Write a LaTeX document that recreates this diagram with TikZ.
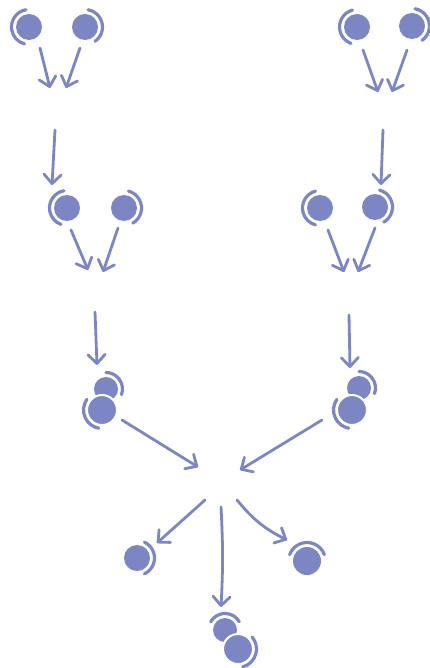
\documentclass[tikz,border=0pt]{standalone}
\usetikzlibrary{arrows.meta}
\definecolor{blu}{RGB}{124,134,194}
\tikzset{
  blob/.style={circle, fill=blu, inner sep=0pt},
  fblob/.style={circle, fill=blu, draw=white, line width=2pt, inner sep=0pt},
  cres/.style={draw=blu, line width=3.2pt, line cap=round},
  arr/.style={draw=blu, line width=2.8pt, line cap=round,
    -{Straight Barb[length=9pt,width=17pt,line width=2.8pt,round]}}
}
\newcommand{\myblob}[6]{% name, x, y, r, start, end
  \node[blob, minimum size=#4*2pt] (#1) at (#2,-#3) {};
  \draw[cres] (#1.center) ++(#5:#4+4.5) arc[start angle=#5, end angle=#6, radius=#4+4.5];
}
\newcommand{\myfblob}[6]{%
  \node[fblob, minimum size=#4*2pt+2pt] (#1) at (#2,-#3) {};
  \draw[cres] (#1.center) ++(#5:#4+4.5) arc[start angle=#5, end angle=#6, radius=#4+4.5];
}
\begin{document}
\begin{tikzpicture}[x=1pt,y=1pt]
\useasboundingbox (0,0) rectangle (430,-668);
% top left
\myblob{tl1}{29}{27}{13}{100}{255}
\myblob{tl2}{85}{27}{13}{-55}{80}
% top right
\myblob{tr1}{357}{27}{13}{105}{250}
\myblob{tr2}{412}{26}{13}{-55}{80}
% middle
\myblob{ml1}{67}{208}{13}{100}{250}
\myblob{ml2}{124}{208}{13}{-60}{75}
\myblob{mr1}{320}{208}{13}{105}{255}
\myblob{mr2}{375}{207}{13}{-60}{75}
% stacks
\myblob{sl1}{106}{389}{12}{-20}{90}
\myfblob{sl2}{102}{410}{14}{145}{260}
\myblob{sr1}{359}{388}{12}{-20}{90}
\myfblob{sr2}{352}{410}{14}{145}{260}
% bottom
\myblob{bl}{137}{558}{13}{-65}{65}
\myblob{br}{307}{561}{14}{20}{160}
\myblob{bs1}{225}{630}{12}{30}{150}
\myfblob{bs2}{238}{649}{14}{-75}{40}
% coordinates
\foreach \n/\x/\y in {
 a1s/40/48, a1e/50/88, a2s/80/48, a2e/66/88, a3s/55/130, a3e/52/185,
 a4s/363/50, a4e/378/92, a5s/407/50, a5e/392/92, a6s/383/130, a6e/381/185,
 a7s/71/230, a7e/88/270, a8s/118/228, a8e/103/272,
 a9s/328/230, a9e/344/272, a10s/375/228, a10e/358/272,
 a11s/95/312, a11e/97/365, a12s/349/315, a12e/350/368,
 a13s/122/420, a13e/198/467, a14s/322/420, a14e/240/470,
 a15s/205/500, a15e/157/543, a16s/221/507, a16e/221/607,
 a17s/237/500, a17e/287/540}
 {\coordinate (\n) at (\x,-\y);}
\foreach \i in {1,...,15} {\draw[arr] (a\i s) -- (a\i e);}
\draw[arr] (a16s) to[bend left=3] (a16e);
\draw[arr] (a17s) to[bend right=12] (a17e);
\end{tikzpicture}
\end{document}
